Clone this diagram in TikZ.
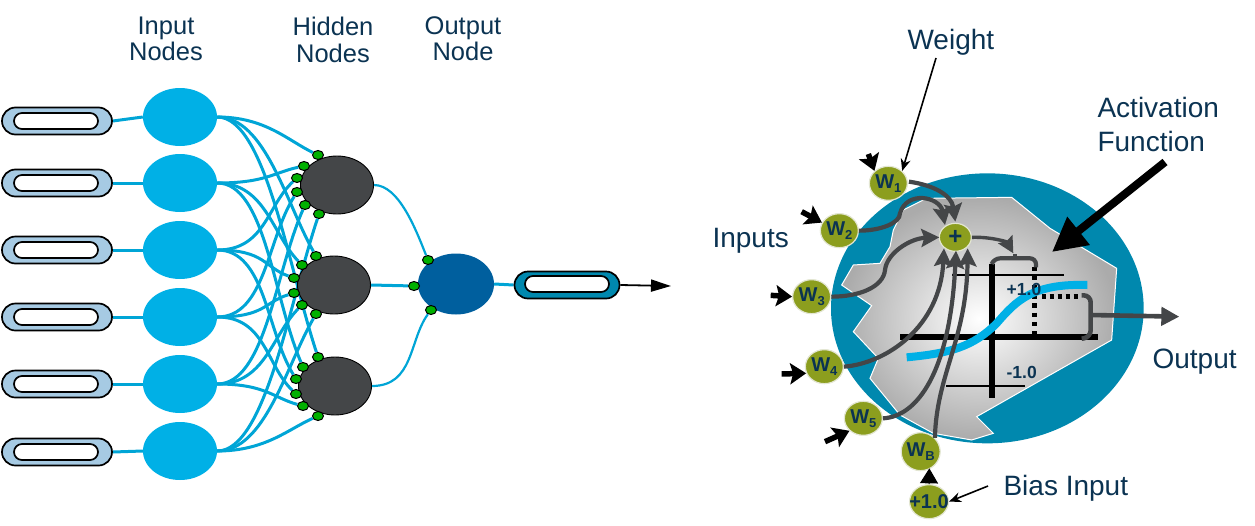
\documentclass[tikz,border=0pt]{standalone}
\usepackage{fontspec}
\setmainfont{Liberation Sans}
\usetikzlibrary{arrows.meta,shapes.misc,shapes.geometric,backgrounds,calc}
\definecolor{navy}{HTML}{0B3352}
\definecolor{cyanA}{HTML}{00B0E6}
\definecolor{wire}{HTML}{00A5D6}
\definecolor{teal}{HTML}{0088AE}
\definecolor{pale}{HTML}{A6CAE3}
\definecolor{outn}{HTML}{005F9E}
\definecolor{dark}{HTML}{444648}
\definecolor{dotg}{HTML}{00B000}
\definecolor{olive}{HTML}{8C9E1E}
\definecolor{rim}{HTML}{E3E6D2}
\tikzset{
  pill/.style={rounded rectangle,draw=black,line width=1.7pt,fill=pale,minimum width=110pt,minimum height=27pt,inner sep=0pt},
  pillin/.style={rounded rectangle,draw=black,line width=1.7pt,fill=white,minimum width=84pt,minimum height=16pt,inner sep=0pt},
  inputn/.style={ellipse,fill=cyanA,minimum width=74pt,minimum height=58pt,inner sep=0pt},
  hiddenn/.style={ellipse,fill=dark,draw=black,line width=.9pt,minimum width=73pt,minimum height=58pt,inner sep=0pt},
  syn/.style={ellipse,fill=dotg,draw=black,line width=1pt,minimum width=11pt,minimum height=9pt,inner sep=0pt},
  wirel/.style={wire,line width=3pt},
  lab/.style={text=navy,align=center,font=\fontsize{25.5}{26.5}\selectfont},
  labr/.style={text=navy,align=left,font=\fontsize{28}{34}\selectfont},
  wn/.style={ellipse,fill=olive,draw=rim,line width=1.2pt,minimum width=38pt,minimum height=34pt,inner sep=-6pt,text=navy,font=\fontsize{20}{20}\selectfont\bfseries},
  gr/.style={dark,line width=4.2pt,-{Stealth[length=18pt,width=18pt,inset=3pt]}},
  inarrow/.style={black,line width=5.5pt,-{Stealth[length=16pt,width=21pt,inset=3pt]}},
  thinarrow/.style={black,line width=1.6pt,-{Stealth[length=12pt,width=10pt]}},
}
\newcommand{\Wsub}[1]{W\raisebox{-4pt}{\fontsize{13}{13}\selectfont #1}}
\begin{document}
\begin{tikzpicture}[x=1pt,y=-1pt]
\useasboundingbox (0,0) rectangle (1255,525);
% left network
\foreach \i/\y in {1/121,2/183,3/250,4/317,5/384,6/452}{
  \node[pill] (P\i) at (57,\y) {};
  \node[pillin] (Q\i) at (56,\y) {};
}
\foreach \i/\y in {1/117,2/183,3/250,4/317,5/384,6/451}
  \node[inputn] (I\i) at (180,\y) {};
\node[hiddenn] (H1) at (337,185) {};
\node[hiddenn] (H2) at (334,285) {};
\node[hiddenn] (H3) at (335,386) {};
\foreach \k/\x/\y in {1/318/155,2/304/166,3/297/178,4/297/192,5/305/205,6/319/214}
  \node[syn] (a\k) at (\x,\y) {};
\foreach \k/\x/\y in {1/316/256,2/302/265,3/294/278,4/294/293,5/302/305,6/316/314}
  \node[syn] (b\k) at (\x,\y) {};
\foreach \k/\x/\y in {1/318/357,2/303/367,3/296/379,4/296/394,5/303/406,6/318/416}
  \node[syn] (c\k) at (\x,\y) {};
\node[ellipse,fill=outn,minimum width=76pt,minimum height=61pt,inner sep=0pt] (O) at (456,284) {};
\node[syn] (o1) at (428,260) {};
\node[syn] (o2) at (414,286) {};
\node[syn] (o3) at (431,310) {};
\node[pill,fill=teal,minimum width=105pt] (PO) at (567,285) {};
\node[pillin,minimum width=84pt] (QO) at (567,284) {};
\coordinate (outend) at (671,286);
\begin{scope}[on background layer]
  \foreach \i in {1,...,6}{
    \draw[wirel] (P\i.east) -- (I\i.west);
    \foreach \h in {a,b,c}{
      \path let \p1=(I\i.east), \p2=(\h\i) in
        \pgfextra{\pgfmathsetmacro{\dy}{0.38*(\y1-\y2)}\xdef\DY{\dy}};
      \draw[wirel] (I\i.east) .. controls +(48,0) and +(-30pt,\DY pt) .. (\h\i);
    }
  }
  \draw[wirel,line width=2.2pt] (H1.east) .. controls +(25,0) and +(-12,-30) .. (o1);
  \draw[wirel] (H2.east) -- (o2);
  \draw[wirel,line width=2.2pt] (H3.east) .. controls +(42,0) and +(-22,30) .. (o3);
  \draw[wirel] (O.east) -- (PO.west);
\end{scope}
\draw[black,line width=1.8pt,-{Stealth[length=20pt,width=12pt,inset=0pt]}] (PO.east) -- (outend);
\node[lab] (L1) at (166,39) {Input\\Nodes};
\node[lab] (L2) at (333,40) {Hidden\\Nodes};
\node[lab] (L3) at (463,38.5) {Output\\Node};
% right: neuron, coordinates in 3x crop units
\begin{scope}[shift={(800,140)},x=0.33333pt,y=-0.33333pt]
  \fill[teal] (562,505) ellipse [x radius=469,y radius=405];
  \path[draw=white,line width=1pt,inner color=white,outer color=black!33,shading=radial]
    (380,175)--(635,172)--(750,265)--(950,385)--(935,600)--(530,830)--(580,880)--(515,900)--(400,880)--(300,825)
    --(210,715)--(235,655)--(160,575)--(215,497)--(125,435)--(160,375)--(240,370)--(270,320)--(280,270)--(310,210)--cycle;
  \draw[black,line width=1.8pt] (457,405)--(792,405);
  \draw[black,line width=1.8pt] (438,737)--(675,737);
  \draw[black,line width=6pt] (300,590)--(893,590);
  \draw[black,line width=6pt] (575,372)--(575,775);
  \draw[black,line width=4.4pt,dash pattern=on 4.6pt off 4.6pt] (703,380)--(703,582);
  \draw[black,line width=4.4pt,dash pattern=on 4pt off 4pt] (725,470)--(845,470);
  \draw[cyanA,line width=8pt] (320,652) .. controls (450,640) and (520,620) .. (590,550) .. controls (650,480) and (700,430) .. (862,435);
  \node[font=\fontsize{17.5}{18}\selectfont\bfseries,text=navy] (pl) at (672,447) {+1.0};
  \node[font=\fontsize{17.5}{18}\selectfont\bfseries,text=navy] (mi) at (665,697) {-1.0};
  % brackets
  \draw[dark,line width=4.2pt,rounded corners=6pt] (575,372)--(582,355)--(708,355)--(708,382);
  \draw[dark,line width=3.4pt] (645,355)--(645,342);
  \draw[dark,line width=4.6pt,rounded corners=7pt] (845,466)--(872,466)--(872,592)--(845,596);
  % nodes
  \node[wn] (W1) at (265,130) {\Wsub{1}};
  \node[wn] (W2) at (118,272) {\Wsub{2}};
  \node[wn] (W3) at (35,470) {\Wsub{3}};
  \node[wn] (W4) at (73,680) {\Wsub{4}};
  \node[wn] (W5) at (190,835) {\Wsub{5}};
  \node[wn,minimum height=38pt,minimum width=39pt] (WB) at (362,935) {\Wsub{B}};
  \node[wn] (BI) at (387,1085) {+1.0};
  \node[wn,minimum width=32pt,minimum height=28pt,font=\fontsize{24}{24}\selectfont\bfseries] (SUM) at (466,292) {+};
  % weights to sum
  \draw[gr] (W1.east) ++(3,-5) coordinate (s1) (s1) .. controls (400,135) and (455,165) .. (466,245);
  \draw[gr] (W2.east) .. controls (240,272) and (300,250) .. (300,220) .. controls (320,150) and (420,170) .. (435,255);
  \draw[gr] (W3.east) .. controls (180,470) and (250,440) .. (255,390) .. controls (260,340) and (330,295) .. (418,292);
  \draw[gr] (W4.east) .. controls (260,670) and (420,560) .. (432,325);
  \draw[gr] (W5.east) .. controls (350,830) and (450,700) .. (468,332);
  \draw[gr] (WB.north east) .. controls (410,700) and (500,600) .. (503,325);
  \draw[gr,line width=3.4pt,-{Stealth[length=16pt,width=16pt,inset=2pt]}] (SUM.east) .. controls (570,290) and (620,305) .. (640,340);
  \coordinate (outB) at (872,525);
  \coordinate (outA) at (1138,530);
  \draw[dark,line width=4.6pt,-{Stealth[length=18pt,width=18pt,inset=0pt]}] (outB) -- (outA);
  % incoming small arrows
  \coordinate (i1) at (205,42);
  \coordinate (i2) at (5,215);
  \coordinate (i3) at (-88,466);
  \coordinate (i4) at (-55,702);
  \coordinate (i5) at (75,905);
  \coordinate (i6) at (388,985);
  \draw[inarrow] (i1) -- (W1.north west);
  \draw[inarrow] (i2) -- (W2.155);
  \draw[inarrow] (i3) -- (W3.west);
  \draw[inarrow] (i4) -- (W4.200);
  \draw[inarrow] (i5) -- (W5.south west);
  \draw[black,line width=1pt,-{Triangle[length=15pt,width=18pt]}] (BI.north) -- (i6);
\end{scope}
\node[labr,anchor=west] (tw) at (904,42) {Weight};
\node[labr,anchor=west] (ti) at (709,241) {Inputs};
\node[labr,anchor=west] (to) at (1149,362) {Output};
\node[labr,anchor=west] (ta) at (1094,124) {Activation\\Function};
\node[labr,anchor=west] (tb) at (1000,488) {Bias Input};
\coordinate (wa) at (936,58);
\coordinate (aa) at (1165,162);
\coordinate (ab) at (1052,252);
\coordinate (ba) at (988,486);
\draw[thinarrow] (wa) -- (W1.north east);
\draw[black,line width=8pt,-{Stealth[length=34pt,width=34pt,inset=0pt]}] (aa) -- (ab);
\draw[thinarrow] (ba) -- (BI.east);
\end{tikzpicture}
\end{document}
